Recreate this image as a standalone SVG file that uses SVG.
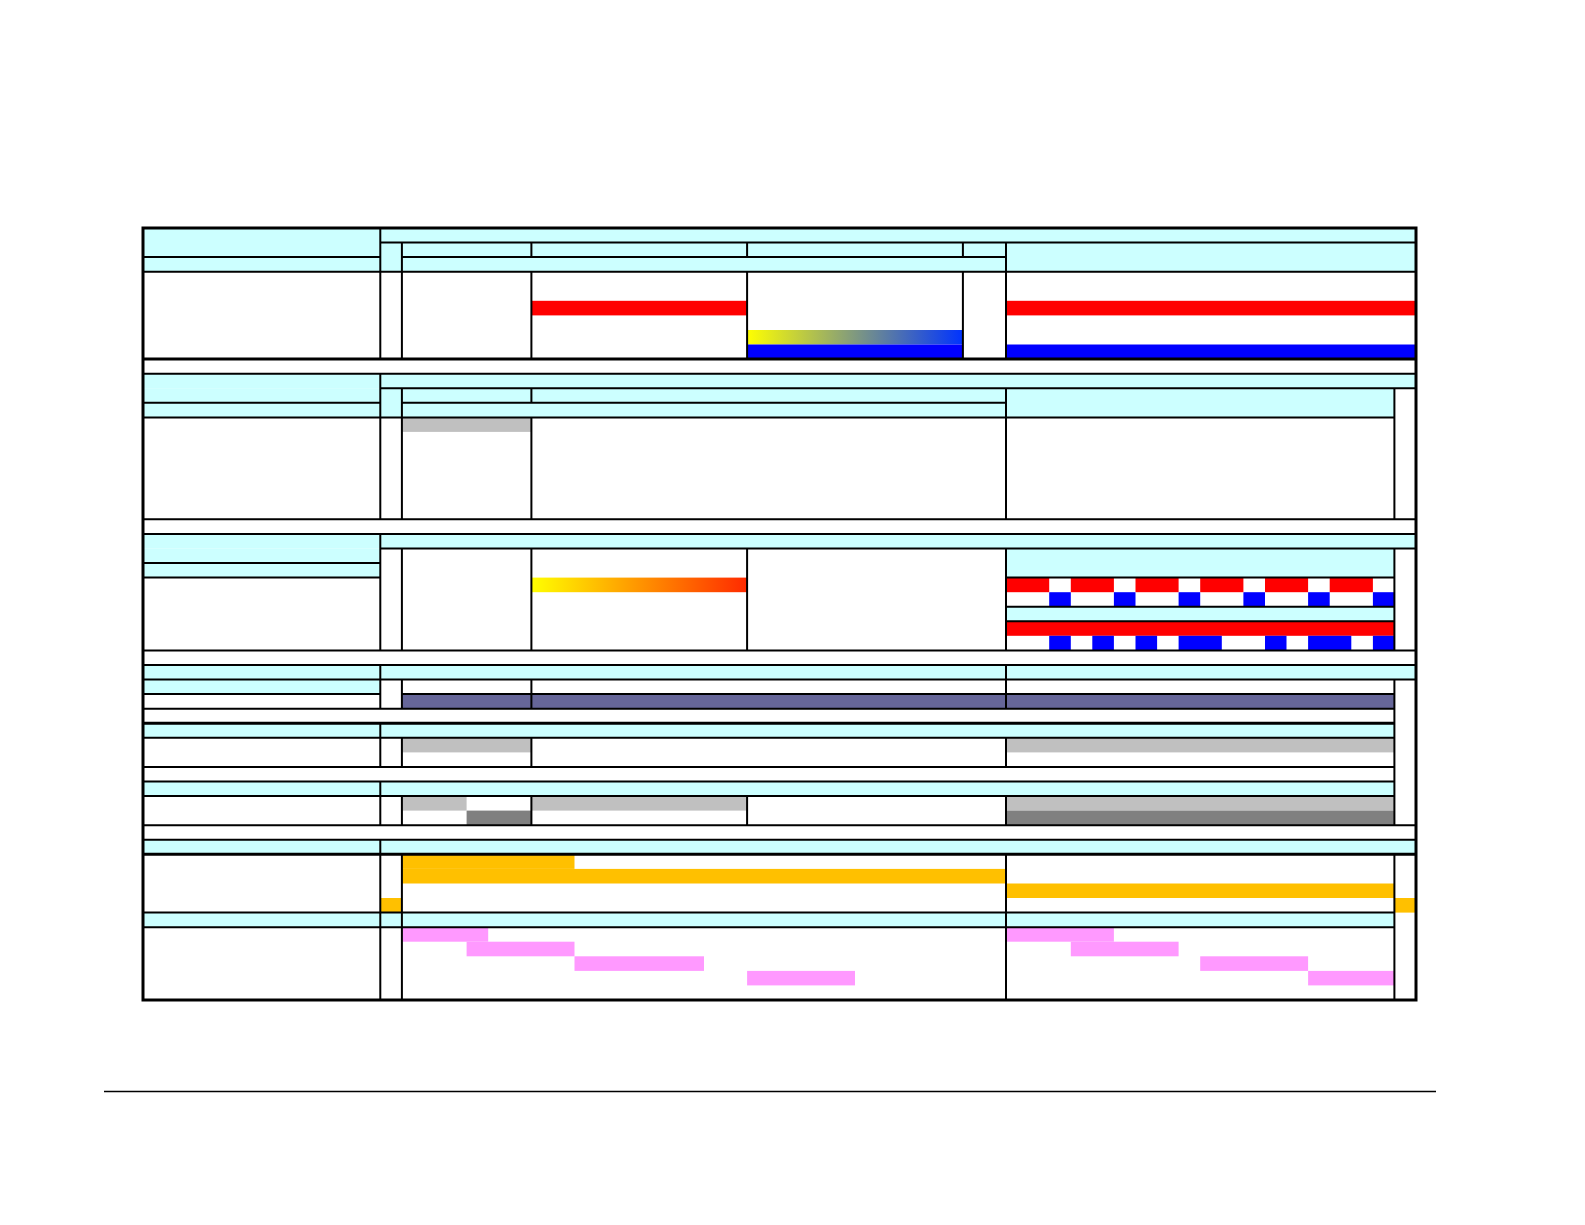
<svg xmlns="http://www.w3.org/2000/svg" width="1585" height="1225" viewBox="0 0 1585 1225">
<style>
.c{fill:#CCFFFF}.r{fill:#FF0000}.b{fill:#0000FF}.g{fill:#C0C0C0}.dg{fill:#808080}.n{fill:#666699}.o{fill:#FFC000}.p{fill:#FF99FF}
.l{stroke:#000;stroke-width:2;fill:none}.t{stroke:#000;stroke-width:3;fill:none}
</style>
<defs>
<linearGradient id="yb" x1="0" y1="0" x2="1" y2="0"><stop offset="0" stop-color="#FFFF00"/><stop offset="1" stop-color="#0033FF"/></linearGradient>
<linearGradient id="yr" x1="0" y1="0" x2="1" y2="0"><stop offset="0" stop-color="#FFFF00"/><stop offset="1" stop-color="#FF2A00"/></linearGradient>
</defs>
<rect width="1585" height="1225" fill="#fff"/>
<g id="fills">
<!-- section 1 -->
<rect class="c" x="143" y="228" width="1273" height="43.7"/>
<rect class="r" x="531.4" y="300.8" width="215.7" height="14.6"/>
<rect class="r" x="1006" y="300.8" width="410" height="14.6"/>
<rect fill="url(#yb)" x="747.1" y="330" width="215.8" height="14.5"/>
<rect class="b" x="747.1" y="344.5" width="215.8" height="14.6"/>
<rect class="b" x="1006" y="344.5" width="410" height="14.6"/>
<!-- section 2 -->
<rect class="c" x="143" y="373.7" width="1273" height="14.5"/>
<rect class="c" x="143" y="388.2" width="1251.4" height="29.2"/>
<rect class="g" x="401.9" y="417.4" width="129.5" height="14.5"/>
<!-- section 3 -->
<rect class="c" x="143" y="533.9" width="1273" height="14.6"/>
<rect class="c" x="143" y="548.5" width="237.3" height="29.1"/>
<rect class="c" x="1006" y="548.5" width="388.4" height="29.1"/>
<rect class="c" x="1006" y="606.7" width="388.4" height="14.6"/>
<rect fill="url(#yr)" x="531.4" y="577.6" width="215.7" height="14.6"/>
<g id="pattern">
<rect class="r" x="1006" y="577.6" width="43.2" height="14.6"/>
<rect class="r" x="1070.8" y="577.6" width="43.1" height="14.6"/>
<rect class="r" x="1135.5" y="577.6" width="43.1" height="14.6"/>
<rect class="r" x="1200.2" y="577.6" width="43.2" height="14.6"/>
<rect class="r" x="1265" y="577.6" width="43.1" height="14.6"/>
<rect class="r" x="1329.7" y="577.6" width="43.2" height="14.6"/>
<rect class="b" x="1049.2" y="592.2" width="21.6" height="14.5"/>
<rect class="b" x="1113.9" y="592.2" width="21.6" height="14.5"/>
<rect class="b" x="1178.6" y="592.2" width="21.6" height="14.5"/>
<rect class="b" x="1243.4" y="592.2" width="21.6" height="14.5"/>
<rect class="b" x="1308.1" y="592.2" width="21.6" height="14.5"/>
<rect class="b" x="1372.9" y="592.2" width="21.5" height="14.5"/>
<rect class="r" x="1006" y="621.3" width="388.4" height="14.5"/>
<rect class="b" x="1049.2" y="635.8" width="21.6" height="14.6"/>
<rect class="b" x="1092.3" y="635.8" width="21.6" height="14.6"/>
<rect class="b" x="1135.5" y="635.8" width="21.6" height="14.6"/>
<rect class="b" x="1178.6" y="635.8" width="43.2" height="14.6"/>
<rect class="b" x="1265" y="635.8" width="21.5" height="14.6"/>
<rect class="b" x="1308.1" y="635.8" width="43.2" height="14.6"/>
<rect class="b" x="1372.9" y="635.8" width="21.5" height="14.6"/>
</g>
<!-- section 4 -->
<rect class="c" x="143" y="665" width="1273" height="14.5"/>
<rect class="c" x="143" y="679.5" width="237.3" height="14.6"/>
<rect class="n" x="401.9" y="694.1" width="992.5" height="14.6"/>
<!-- section 5 -->
<rect class="c" x="143" y="723.2" width="1251.4" height="14.6"/>
<rect class="g" x="401.9" y="737.8" width="129.5" height="14.6"/>
<rect class="g" x="1006" y="737.8" width="388.4" height="14.6"/>
<!-- section 6 -->
<rect class="c" x="143" y="781.5" width="1251.4" height="14.6"/>
<rect class="g" x="401.9" y="796.1" width="64.7" height="14.5"/>
<rect class="dg" x="466.6" y="810.6" width="64.8" height="14.6"/>
<rect class="g" x="531.4" y="796.1" width="215.7" height="14.5"/>
<rect class="g" x="1006" y="796.1" width="388.4" height="14.5"/>
<rect class="dg" x="1006" y="810.6" width="388.4" height="14.6"/>
<!-- section 7 -->
<rect class="c" x="143" y="839.8" width="1273" height="14.5"/>
<rect class="c" x="143" y="912.6" width="1251.4" height="14.6"/>
<rect class="o" x="401.9" y="854.3" width="172.6" height="14.6"/>
<rect class="o" x="401.9" y="868.9" width="604.1" height="14.6"/>
<rect class="o" x="1006" y="883.5" width="388.4" height="14.5"/>
<rect class="o" x="380.3" y="898" width="21.6" height="14.6"/>
<rect class="o" x="1394.4" y="898" width="21.6" height="14.6"/>
<rect class="p" x="401.9" y="927.2" width="86.3" height="14.5"/>
<rect class="p" x="466.6" y="941.7" width="107.9" height="14.6"/>
<rect class="p" x="574.5" y="956.3" width="129.5" height="14.6"/>
<rect class="p" x="747.1" y="970.9" width="107.9" height="14.5"/>
<rect class="p" x="1006" y="927.2" width="107.9" height="14.5"/>
<rect class="p" x="1070.8" y="941.7" width="107.8" height="14.6"/>
<rect class="p" x="1200.2" y="956.3" width="107.9" height="14.6"/>
<rect class="p" x="1308.1" y="970.9" width="86.3" height="14.5"/>
</g>
<g id="connectors">
<path class="l" d="
M380.3 242.6H1416 M143 257.1H380.3 M401.9 257.1H1006 M143 271.7H1416
M143 373.7H1416 M380.3 388.2H1416 M143 402.8H380.3 M401.9 402.8H1006 M143 417.4H1394.4 M143 519.3H1416
M143 533.9H1416 M380.3 548.5H1416 M143 563H380.3 M143 577.6H380.3 M1006 577.6H1394.4 M1006 606.7H1394.4 M1006 621.3H1394.4 M143 650.4H1416
M143 665H1416 M143 679.5H1416 M143 694.1H380.3 M401.9 694.1H1394.4 M143 708.7H1394.4
M143 737.8H1394.4 M143 766.9H1394.4 M143 781.5H1394.4 M143 796.1H1394.4 M143 825.2H1416
M143 839.8H1416 M143 912.6H1394.4 M143 927.2H1394.4
M380.3 228V359.1 M401.9 242.6V359.1 M531.4 242.6V257.1 M531.4 271.7V359.1 M747.1 242.6V257.1 M747.1 271.7V359.1 M962.9 242.6V257.1 M962.9 271.7V359.1 M1006 242.6V359.1
M380.3 373.7V519.3 M401.9 388.2V519.3 M531.4 388.2V402.8 M531.4 417.4V519.3 M1006 388.2V519.3 M1394.4 388.2V519.3
M380.3 533.9V650.4 M401.9 548.5V650.4 M531.4 548.5V650.4 M747.1 548.5V650.4 M1006 548.5V650.4 M1394.4 548.5V650.4
M380.3 665V708.7 M401.9 679.5V708.7 M531.4 679.5V708.7 M1006 665V708.7 M1394.4 679.5V825.2
M380.3 723.2V766.9 M401.9 737.8V766.9 M531.4 737.8V766.9 M1006 737.8V766.9
M380.3 781.5V825.2 M401.9 796.1V825.2 M531.4 796.1V825.2 M747.1 796.1V825.2 M1006 796.1V825.2
M380.3 839.8V1000 M401.9 854.3V1000 M1006 854.3V1000 M1394.4 854.3V1000"/>
<path class="t" d="M143 359.1H1416 M143 723.2H1394.4 M143 854.3H1416"/>
<rect class="t" x="143" y="228" width="1273" height="772"/>
<line x1="104" y1="1091.5" x2="1436" y2="1091.5" stroke="#000" stroke-width="1.5"/>
</g>
</svg>
